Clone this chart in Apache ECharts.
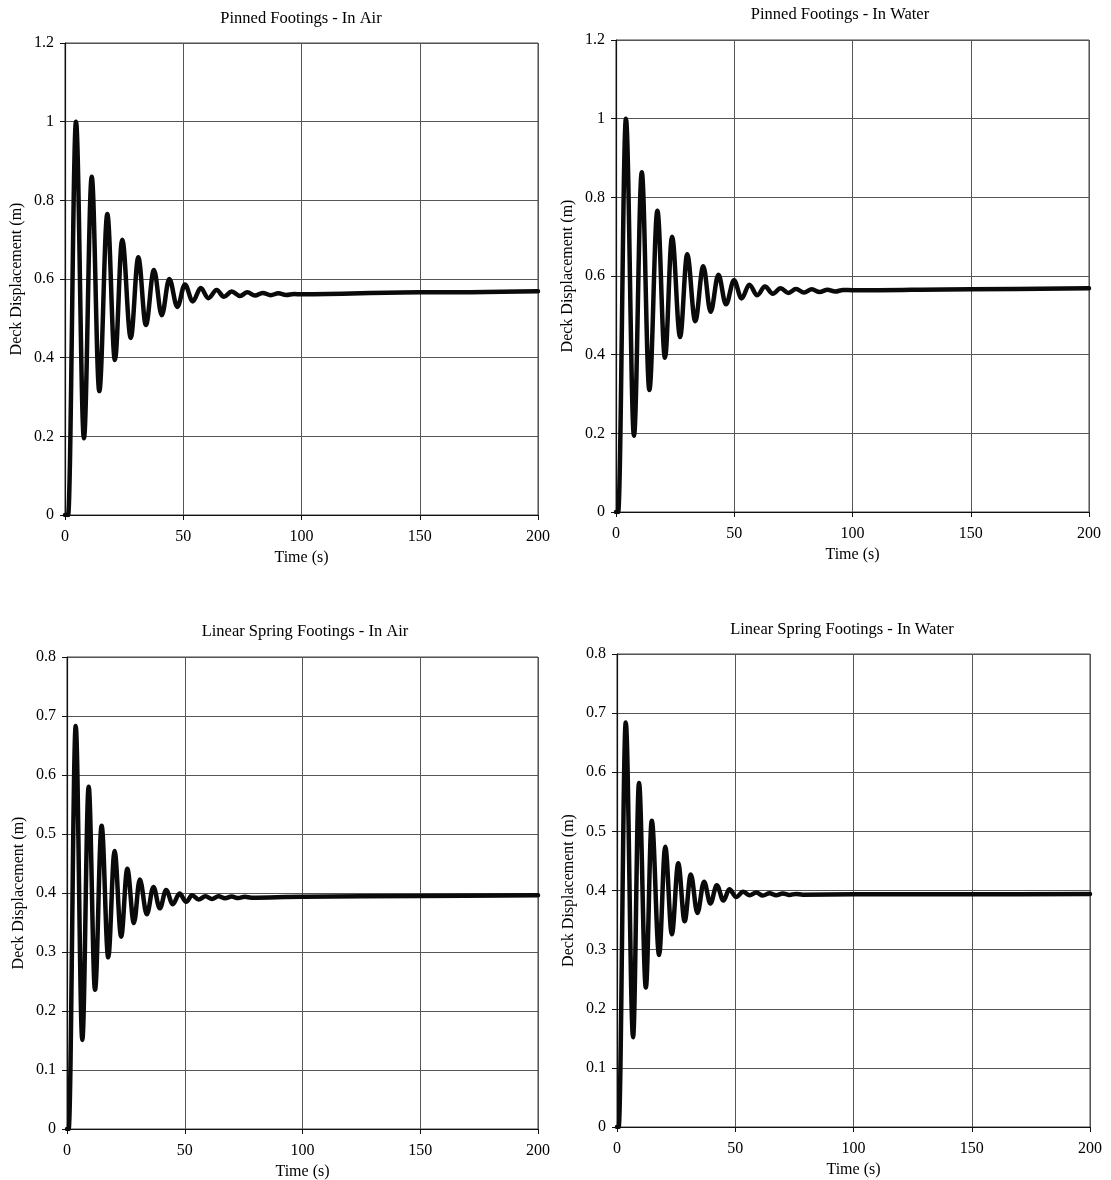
<!DOCTYPE html>
<html>
<head>
<meta charset="utf-8">
<script src="https://cdn.jsdelivr.net/npm/echarts@6/dist/echarts.min.js"></script>
<style>
  html, body { margin: 0; padding: 0; background: #fff; }
  #chart { width: 1111px; height: 1180px; }
</style>
</head>
<body>
<div id="chart"></div>
<script>
// Axis ticks
const timeTicks = [0, 50, 100, 150, 200];
const pinnedTicks = [0, 0.2, 0.4, 0.6, 0.8, 1, 1.2];
const springTicks = [0, 0.1, 0.2, 0.3, 0.4, 0.5, 0.6, 0.7, 0.8];

// Panel titles
const panelTitles = [
  'Pinned Footings - In Air',
  'Pinned Footings - In Water',
  'Linear Spring Footings - In Air',
  'Linear Spring Footings - In Water'
];

// Deck displacement histories: successive turning points of the response (s, m)
const pinnedAirTime = [0, 1.3, 4.65, 8.0, 11.3, 14.5, 17.9, 21.1, 24.2, 27.8, 31.0, 34.2, 37.6, 40.9, 44.1, 47.5, 50.7, 54.0, 57.4, 60.6, 64.1, 67.2, 70.5, 74.0, 77.1, 80.3, 83.6, 87.0, 90.2, 93.5, 96.8, 100, 150, 200];
const pinnedAirDisp = [0, 0, 1.0, 0.195, 0.86, 0.315, 0.765, 0.394, 0.70, 0.45, 0.655, 0.483, 0.623, 0.508, 0.60, 0.529, 0.586, 0.543, 0.577, 0.551, 0.572, 0.555, 0.568, 0.557, 0.566, 0.558, 0.5645, 0.559, 0.5635, 0.5595, 0.562, 0.561, 0.566, 0.569];

const pinnedWaterTime = [0, 0.9, 4.2, 7.6, 10.9, 14.1, 17.5, 20.7, 23.7, 27.1, 30.1, 33.5, 36.9, 40.0, 43.3, 46.5, 49.9, 53.1, 56.4, 59.7, 63.0, 66.3, 69.6, 72.9, 76.1, 79.5, 82.8, 86.1, 89.4, 92.7, 96.0, 100, 150, 200];
const pinnedWaterDisp = [0, 0, 1.0, 0.194, 0.864, 0.31, 0.766, 0.392, 0.70, 0.445, 0.655, 0.485, 0.625, 0.509, 0.603, 0.528, 0.589, 0.543, 0.578, 0.551, 0.573, 0.555, 0.569, 0.557, 0.567, 0.558, 0.566, 0.5595, 0.565, 0.5605, 0.5645, 0.5637, 0.5665, 0.5687];

const springAirTime = [0, 0.7, 3.7, 6.5, 9.2, 11.9, 14.7, 17.5, 20.2, 23.0, 25.6, 28.4, 30.9, 33.9, 36.7, 39.4, 42.1, 44.9, 47.8, 50.6, 53.1, 55.9, 58.8, 61.6, 64.3, 67.1, 69.9, 72.7, 75.5, 78.3, 100, 150, 200];
const springAirDisp = [0, 0, 0.683, 0.151, 0.58, 0.236, 0.514, 0.291, 0.471, 0.326, 0.441, 0.349, 0.423, 0.364, 0.41, 0.374, 0.405, 0.381, 0.399, 0.385, 0.396, 0.389, 0.3945, 0.390, 0.3945, 0.391, 0.394, 0.3915, 0.3935, 0.392, 0.3936, 0.395, 0.396];

const springWaterTime = [0, 0.7, 3.7, 6.8, 9.3, 12.2, 14.7, 17.8, 20.4, 23.2, 25.9, 28.6, 31.2, 34.0, 36.8, 39.5, 42.2, 45.0, 47.5, 50.4, 53.3, 56.1, 58.9, 61.7, 64.5, 67.3, 70.1, 72.9, 75.7, 78.5, 100, 150, 200];
const springWaterDisp = [0, 0, 0.684, 0.152, 0.582, 0.236, 0.518, 0.291, 0.474, 0.326, 0.446, 0.348, 0.427, 0.362, 0.415, 0.378, 0.409, 0.383, 0.402, 0.389, 0.398, 0.392, 0.3965, 0.3915, 0.3955, 0.392, 0.395, 0.3925, 0.3942, 0.393, 0.3935, 0.3938, 0.394];

const FONT = '"Liberation Serif", "Times New Roman", serif';

const panels = [
  { title: panelTitles[0], time: pinnedAirTime, disp: pinnedAirDisp, yTicks: pinnedTicks,
    grid: { left: 65, top: 43, width: 473, height: 472 }, titleX: 301, titleY: 10 },
  { title: panelTitles[1], time: pinnedWaterTime, disp: pinnedWaterDisp, yTicks: pinnedTicks,
    grid: { left: 616, top: 40, width: 473, height: 472 }, titleX: 840, titleY: 6 },
  { title: panelTitles[2], time: springAirTime, disp: springAirDisp, yTicks: springTicks,
    grid: { left: 67, top: 657, width: 471, height: 472 }, titleX: 305, titleY: 623 },
  { title: panelTitles[3], time: springWaterTime, disp: springWaterDisp, yTicks: springTicks,
    grid: { left: 617, top: 654, width: 473, height: 473 }, titleX: 842, titleY: 621 }
];

const textBase = { fontFamily: FONT, color: '#000' };

const option = {
  backgroundColor: '#ffffff',
  animation: false,
  title: panels.map(p => ({
    text: p.title,
    left: p.titleX,
    top: p.titleY,
    textAlign: 'center',
    padding: 0,
    textStyle: Object.assign({ fontSize: 16.5, fontWeight: 'normal' }, textBase)
  })),
  grid: panels.map(p => Object.assign({
    show: true,
    borderColor: '#444',
    borderWidth: 1,
    backgroundColor: 'transparent',
    containLabel: false,
    outerBoundsMode: 'none'
  }, p.grid)),
  xAxis: panels.map((p, i) => ({
    type: 'value',
    gridIndex: i,
    min: timeTicks[0],
    max: timeTicks[timeTicks.length - 1],
    interval: timeTicks[1] - timeTicks[0],
    name: 'Time (s)',
    nameLocation: 'middle',
    nameGap: 35,
    nameTextStyle: Object.assign({ fontSize: 16 }, textBase),
    axisLine: { onZero: false, lineStyle: { color: '#111', width: 1.2 } },
    axisTick: { show: true, inside: false, length: 5, lineStyle: { color: '#111' } },
    axisLabel: Object.assign({ fontSize: 16, margin: 14 }, textBase),
    splitLine: { show: true, lineStyle: { color: '#555', width: 1 } }
  })),
  yAxis: panels.map((p, i) => ({
    type: 'value',
    gridIndex: i,
    min: p.yTicks[0],
    max: p.yTicks[p.yTicks.length - 1],
    interval: Math.round((p.yTicks[1] - p.yTicks[0]) * 100) / 100,
    name: 'Deck Displacement (m)',
    nameLocation: 'middle',
    nameGap: 40,
    nameRotate: 90,
    nameTextStyle: Object.assign({ fontSize: 16 }, textBase),
    axisLine: { onZero: false, lineStyle: { color: '#111', width: 1.2 } },
    axisTick: { show: true, inside: false, length: 5, lineStyle: { color: '#111' } },
    axisLabel: Object.assign({ fontSize: 16, margin: 11 }, textBase),
    splitLine: { show: true, lineStyle: { color: '#555', width: 1 } }
  })),
  series: panels.map((p, i) => ({
    type: 'line',
    xAxisIndex: i,
    yAxisIndex: i,
    data: p.time.map((t, k) => [t, p.disp[k]]),
    showSymbol: false,
    smooth: 0.36,
    smoothMonotone: 'x',
    lineStyle: { color: '#0a0a0a', width: 4.5, cap: 'round', join: 'round' },
    emphasis: { disabled: true },
    silent: true
  }))
};

const chart = echarts.init(document.getElementById('chart'), null, { renderer: 'canvas' });
chart.setOption(option);
</script>
</body>
</html>
